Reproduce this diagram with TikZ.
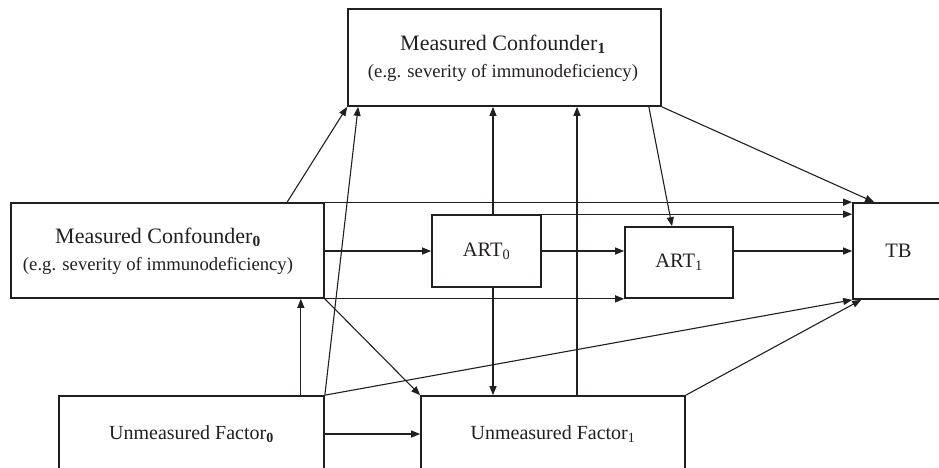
\documentclass[tikz,border=0pt]{standalone}
\usepackage{fontspec}
\setmainfont{Liberation Serif}
\usetikzlibrary{arrows.meta,calc}
\definecolor{ink}{HTML}{231F20}
\tikzset{
  box/.style={draw=ink, line width=1.7pt, rectangle, inner sep=0pt, text=ink, font=\fontsize{20.5}{27}\selectfont},
  lbl/.style={font=\fontsize{22}{27}\selectfont, text=ink, align=center, inner sep=0pt},
  uflbl/.style={font=\fontsize{20}{27}\selectfont},
  arr/.style={draw=ink, line width=1.1pt, -{Triangle[length=9pt,width=7pt]}},
}
\begin{document}
\begin{tikzpicture}[x=1pt,y=-1pt]
\useasboundingbox (0,0) rectangle (939,467);
\clip (0,0) rectangle (939,467);
% boxes
\node[box, minimum width=313pt, minimum height=97pt] (mc1) at (504.5,57.5) {};
\node[lbl] (mc1text) at (503,58) {Measured Confounder\textsubscript{\textbf{1}}\\{\fontsize{18.7}{22}\selectfont (e.g. severity of immunodeficiency)}};
\node[box, minimum width=313pt, minimum height=95pt] (mc0) at (167.5,250.5) {};
\node[lbl] (mc0text) at (158,251) {Measured Confounder\textsubscript{\textbf{0}}\\{\fontsize{18.7}{22}\selectfont (e.g. severity of immunodeficiency)}};
\node[box, minimum width=109pt, minimum height=72pt] (art0) at (486.5,251) {ART\textsubscript{0}};
\node[box, minimum width=108pt, minimum height=71pt] (art1) at (679,262.5) {ART\textsubscript{1}};
\node[box, minimum width=91pt, minimum height=96pt] (tb) at (898.5,251) {TB};
\node[box, uflbl, minimum width=265pt, minimum height=76pt] (uf0) at (191.5,434) {Unmeasured Factor\textsubscript{\textbf{0}}};
\node[box, uflbl, minimum width=264pt, minimum height=76pt] (uf1) at (553,434) {Unmeasured Factor\textsubscript{1}};
% connectors
\draw[arr] ($(mc0.north west)+(277,0)$) -- (mc1.south west);
\draw[arr] (uf0.north east) -- ($(mc1.south west)+(11,0)$);
\draw[arr] ($(art0.north)+(6.5,0)$) coordinate (a0t) -- (a0t |- mc1.south);
\draw[arr] ($(art0.south)+(6.5,0)$) coordinate (a0b) -- (a0b |- uf1.north);
\draw[arr] ($(uf1.north)+(24,0)$) coordinate (u1t) -- (u1t |- mc1.south);
\draw[arr] ($(mc1.south east)+(-13,0)$) -- ($(art1.north)+(-7,0)$);
\draw[arr] (mc1.south east) -- ($(tb.north west)+(22,0)$);
\draw[arr] (mc0.north east) -- (tb.north west);
\draw[arr] (art0.north east) -- (art0.north east -| tb.west);
\draw[arr] (mc0.east |- art0.west) -- (art0.west);
\draw[arr] (art0.east) -- (art0.east -| art1.west);
\draw[arr] (art1.east |- tb.west) -- (tb.west);
\draw[arr] (mc0.south east) -- (art1.south west);
\draw[arr] (mc0.south east) -- (uf1.north west);
\draw[arr] ($(uf0.north east)+(-24,0)$) coordinate (u0t) -- (u0t |- mc0.south);
\draw[arr] (uf0.east) -- (uf1.west);
\draw[arr] (uf0.north east) -- (tb.south west);
\draw[arr] (uf1.north east) -- ($(tb.south west)+(9,0)$);
\end{tikzpicture}
\end{document}
